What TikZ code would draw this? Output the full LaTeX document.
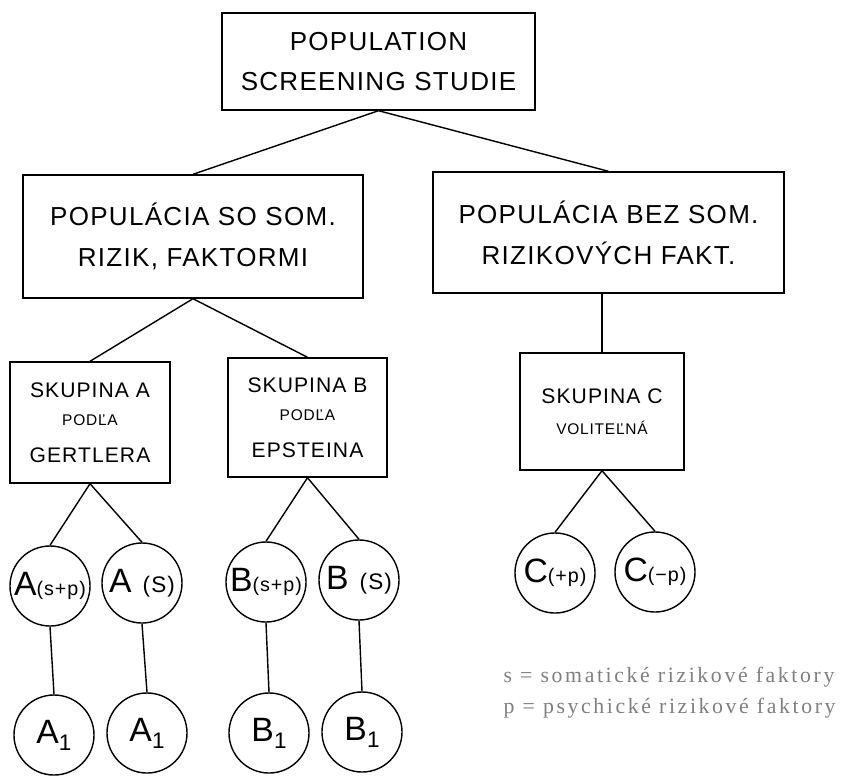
\documentclass[tikz,border=0pt]{standalone}
\usepackage{fontspec}
\setmainfont{Liberation Serif}
\newfontfamily\hand{Liberation Sans}[LetterSpace=5]
\newfontfamily\legendfont{Liberation Serif}[LetterSpace=12]
\definecolor{legendgray}{gray}{0.5}
\newcommand\sub[1]{\raisebox{-5pt}{\fontsize{16}{16}\selectfont#1}}

\begin{document}
\begin{tikzpicture}[x=0.025cm,y=-0.025cm,line width=1pt,
  box/.style 2 args={draw,align=center,inner sep=0,
    minimum width=#1*0.025cm,minimum height=#2*0.025cm,
    font=\hand\fontsize{15}{28}\selectfont},
  big/.style={font=\hand\fontsize{18.5}{29}\selectfont},
  grp/.style={circle,draw,minimum size=2cm,inner sep=0,
    font=\hand\fontsize{24}{24}\selectfont}]
\useasboundingbox (0,0) rectangle (841,776);
% boxes
\node[box={313}{97},big] (top) at (378.5,61.5) {POPULATION\\SCREENING STUDIE};
\node[box={340}{123},big] (som) at (193,236.5) {POPULÁCIA SO SOM.\\RIZIK, FAKTORMI};
\node[box={351}{121},big] (bez) at (608.5,232.5) {POPULÁCIA BEZ SOM.\\RIZIKOVÝCH FAKT.};
\node[box={160}{121}] (A) at (90,422.5)
  {SKUPINA A\\[-8pt]{\fontsize{11}{11}\selectfont PODĽA}\\[-2pt]GERTLERA};
\node[box={159}{119}] (B) at (307.5,417.5)
  {SKUPINA B\\[-8pt]{\fontsize{11}{11}\selectfont PODĽA}\\[-2pt]EPSTEINA};
\node[box={164}{117}] (C) at (602,411.5)
  {SKUPINA C\\[-6pt]{\fontsize{11}{11}\selectfont VOLITEĽNÁ}};
% circles
\node[grp] (Asp) at (50,586) {A{\fontsize{14}{14}\selectfont(s+p)}};
\node[grp] (As) at (142,583) {A {\fontsize{16}{16}\selectfont(S)}};
\node[grp] (Bsp) at (266,582) {B{\fontsize{14}{14}\selectfont(s+p)}};
\node[grp] (Bs) at (359,580) {B {\fontsize{16}{16}\selectfont(S)}};
\node[grp] (Aa) at (54,735) {A\sub{1}};
\node[grp] (Ab) at (147,733) {A\sub{1}};
\node[grp] (Ba) at (269,733) {B\sub{1}};
\node[grp] (Bb) at (362,732) {B\sub{1}};
\node[grp] (Cp) at (555,573) {C{\fontsize{14}{14}\selectfont(+p)}};
\node[grp] (Cm) at (655,572) {C{\fontsize{14}{14}\selectfont(−p)}};
% connectors
\foreach \p/\c in {top/som,top/bez,som/A,som/B,A/Asp,A/As,B/Bsp,B/Bs,
  C/Cp,C/Cm,Asp/Aa,As/Ab,Bsp/Ba,Bs/Bb}
  \draw (\p.south) -- (\c.north);
\draw (bez.south -| C.north) -- (C.north);
% legend
\node[anchor=base west,inner sep=0,text=legendgray,font=\legendfont\fontsize{15.5}{15.5}\selectfont]
  (ls) at (503,682) {s = somatické rizikové faktory};
\node[anchor=base west,inner sep=0,text=legendgray,font=\legendfont\fontsize{15.5}{15.5}\selectfont]
  (lp) at (503,713) {p = psychické rizikové faktory};
\end{tikzpicture}
\end{document}
